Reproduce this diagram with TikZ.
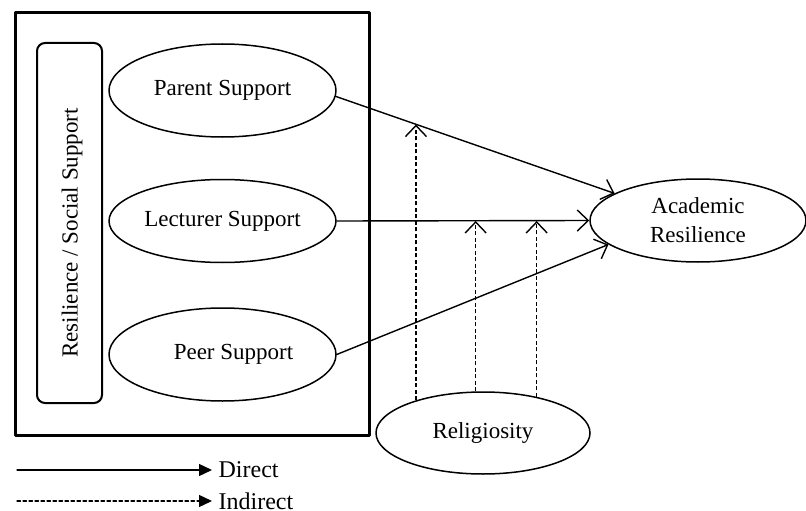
\documentclass[tikz,border=0pt]{standalone}
\usepackage{fontspec}
\setmainfont{Liberation Serif}
\usetikzlibrary{calc}
\usetikzlibrary{arrows.meta}
\usetikzlibrary{shapes.geometric}

\begin{document}
\begin{tikzpicture}[x=1pt, y=-1pt, line cap = round, line join = round]
\tikzstyle{factor}=[ellipse, draw=black, line width=1.5pt, inner sep=0pt, minimum width=227pt, font=\fontsize{23}{29}\selectfont]
\tikzstyle{direct}=[line width=1.4pt, -{Straight Barb[length=11pt,width=21pt]}]
\tikzstyle{indirect}=[line width=1.6pt, -{Straight Barb[length=11pt,width=21pt,line width=1.4pt]}, dash pattern=on 4pt off 2.5pt, line cap=butt]
\tikzstyle{legtip}=[line width=1.3pt, -{Triangle[length=13pt,width=12pt]}]
\useasboundingbox (0,0) rectangle (806,511);

\node[draw=black, line width=3pt, minimum width=354pt, minimum height=422pt, inner sep=0pt] (frame) at (192,224) {};
\node[draw=black, line width=2pt, rounded corners=8pt, minimum width=65pt, minimum height=360pt, inner sep=0pt] (social) at (69.5,223) {};
\node[rotate=90, font=\fontsize{23}{29}\selectfont] (socialtxt) at (72,233) {Resilience / Social Support};

\node[factor, minimum height=93pt] (parent) at (222.5,90.5) {Parent Support};
\node[factor, minimum height=83pt] (lecturer) at (222.5,221) {Lecturer Support};
\node[factor, minimum height=93pt] (peer) at (222.5,354.5) {\hspace*{22pt}Peer Support};
\node[factor, minimum width=216pt, minimum height=83pt, align=center] (academic) at (698,220.5) {Academic\\Resilience};
\node[factor, minimum width=214pt, minimum height=82pt] (relig) at (483,433) {Religiosity};

\draw[direct] (parent.-3) -- (academic.162) coordinate[pos=0.29] (m1);
\draw[direct] (lecturer.east) -- (academic.west);
\draw[direct] (peer.east) -- (academic.-165);

\draw[indirect] (relig.154) -- (relig.154 |- m1);
\draw[indirect] (relig.100) -- (relig.100 |- lecturer.east);
\draw[indirect] (relig.34) -- (relig.34 |- lecturer.east);

% legend
\coordinate (d1) at (17,470);
\coordinate (d2) at (212,470);
\coordinate (i1) at (17,501);
\coordinate (i2) at (212,501);
\draw[legtip] (d1) -- (d2) node[right, inner sep=6pt, font=\fontsize{24}{29}\selectfont] (dirtxt) {Direct};
\draw[legtip, dash pattern=on 3.5pt off 2.5pt] (i1) -- (i2) node[right, inner sep=6pt, font=\fontsize{24}{29}\selectfont] (indtxt) {Indirect};
\end{tikzpicture}
\end{document}
